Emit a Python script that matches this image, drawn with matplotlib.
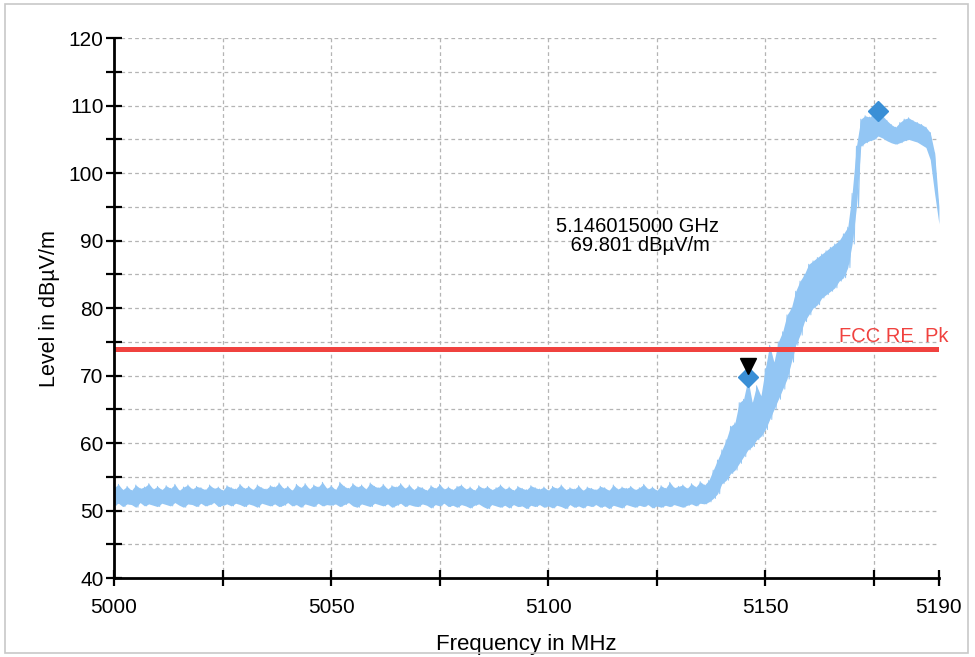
import numpy as np
import matplotlib
matplotlib.use('Agg')
import matplotlib.pyplot as plt
from matplotlib.patches import Rectangle

plt.rcParams['font.family'] = ['Liberation Sans', 'DejaVu Sans']

# ─── Data ───────────────────────────────────────────────────────────────────
freq_start = 5000   # MHz, 1 MHz per entry below

level_hi = [
    53.4, 53.9, 53.1, 53.6, 53.0, 53.8, 53.3, 53.5, 54.0, 53.2,
    53.6, 53.1, 53.7, 53.3, 53.9, 53.0, 53.5, 53.8, 53.2, 53.6,
    53.4, 53.1, 53.8, 53.3, 53.5, 53.0, 53.7, 53.4, 53.2, 53.9,
    53.3, 53.6, 53.1, 53.8, 53.4, 53.2, 53.7, 53.5, 54.1, 53.3,
    53.6, 53.0, 53.9, 53.4, 54.0, 53.2, 53.8, 53.5, 54.2, 53.3,
    53.7, 53.1, 54.2, 53.6, 53.3, 54.0, 53.5, 53.8, 53.2, 54.1,
    53.6, 53.4, 53.9, 53.2, 53.7, 53.5, 54.0, 53.3, 53.8, 53.1,
    53.6, 53.4, 53.0, 53.7, 53.3, 53.9, 53.2, 53.5, 53.1, 53.6,
    53.8, 53.2, 53.5, 53.0, 53.7, 53.3, 53.6, 53.1, 53.4, 53.8,
    53.2, 53.5, 53.0, 53.6, 53.3, 53.1, 53.7, 53.4, 53.2, 53.5,
    53.0, 53.6, 53.3, 53.8, 53.1, 53.4, 53.2, 53.7, 53.0, 53.5,
    53.3, 53.1, 53.6, 53.4, 53.0, 53.8, 53.2, 53.5, 53.3, 53.6,
    53.1, 53.4, 53.9, 53.2, 53.5, 53.0, 53.7, 53.3, 54.2, 53.4,
    53.6, 53.8, 53.3, 54.0, 53.5, 54.3, 53.8, 54.5, 56.0, 57.5,
    59.0, 60.5, 62.5, 63.0, 66.0, 66.5, 69.5, 66.0, 68.5, 67.0,
    71.0, 74.5, 72.0, 75.0, 76.5, 79.0, 80.0, 82.5, 84.0, 85.0,
    86.5, 87.0, 87.5, 88.0, 88.5, 89.0, 89.5, 90.0, 91.0, 92.0,
    97.0, 104.0, 108.0, 108.5, 108.3, 108.8, 109.2, 108.5, 107.8, 107.2,
    106.8, 107.5, 108.0, 108.2, 107.8, 107.5, 107.2, 106.8, 106.0, 103.0,
    95.0,
]

level_lo = [
    50.8, 51.1, 50.6, 51.0, 50.9, 50.5, 51.2, 50.7, 51.0, 50.8,
    50.6, 51.1, 50.9, 50.7, 51.2, 50.8, 50.5, 51.0, 50.9, 50.6,
    51.1, 50.7, 50.9, 51.2, 50.6, 50.8, 51.0, 50.7, 51.1, 50.9,
    50.6, 51.0, 50.8, 50.5, 51.1, 50.9, 50.7, 51.0, 50.6, 50.8,
    51.2, 50.7, 50.9, 50.5, 51.0, 50.8, 50.6, 51.1, 50.7, 50.9,
    50.8, 51.0, 50.6, 50.9, 51.2, 50.7, 50.5, 51.0, 50.8, 50.6,
    51.1, 50.9, 50.7, 51.0, 50.5, 50.8, 51.1, 50.6, 50.9, 50.7,
    50.6, 51.0, 50.8, 50.4, 50.9, 50.7, 51.1, 50.6, 50.8, 50.5,
    50.9, 50.7, 50.4, 50.8, 51.0, 50.6, 50.3, 50.9, 50.7, 50.5,
    50.8, 50.4, 50.9, 50.6, 50.7, 50.3, 50.8, 50.6, 50.9, 50.5,
    50.7, 50.4, 50.8, 50.6, 50.3, 50.9, 50.5, 50.7, 50.4, 50.8,
    50.6, 50.9, 50.5, 50.7, 50.3, 50.8, 50.6, 50.4, 50.9, 50.7,
    50.5, 50.8, 50.6, 50.9, 50.4, 50.7, 50.5, 50.8, 50.6, 50.9,
    50.7, 50.5, 50.8, 51.0, 50.7, 51.1, 51.0, 51.3, 51.8, 52.5,
    54.0, 54.5, 55.5, 56.0, 57.0, 58.0, 59.0, 59.5, 60.5, 61.0,
    62.0, 63.5, 65.0, 66.5, 68.0, 69.5, 72.0, 74.5, 76.0, 78.0,
    79.0, 80.0, 80.5, 81.5, 82.0, 82.5, 83.0, 84.0, 84.5, 86.0,
    89.5, 95.0, 104.0, 104.5, 104.8, 105.0, 105.5, 105.2, 104.8, 104.5,
    104.3, 104.5, 104.8, 105.0, 104.8, 104.6, 104.2, 103.8, 102.0, 97.0,
    92.5,
]

limit_level = 74.0
limit_label = 'FCC RE  Pk'
peak_freq, peak_level = 5176.0, 109.2
marker_freq, marker_level = 5146.015, 69.801

x_ticks = [5000, 5025, 5050, 5075, 5100, 5125, 5150, 5175, 5190]
x_labels = ['5000', '', '5050', '', '5100', '', '5150', '', '5190']

TRACE = '#93c6f4'
MARK = '#3a8fd6'
LIMIT = '#f0423f'

# ─── Build zig-zag trace from the envelope ──────────────────────────────────
n = len(level_hi)
freqs = freq_start + np.arange(n)
zig_x = np.empty(2 * n)
zig_y = np.empty(2 * n)
zig_x[0::2] = freqs
zig_x[1::2] = freqs + 0.5
zig_y[0::2] = level_hi
zig_y[1::2] = level_lo
zig_x = zig_x[:-1]
zig_y = zig_y[:-1]

# ═══════════════════════════════════════════════════════════════════════════
fig = plt.figure(figsize=(9.75, 6.57), dpi=100)
ax = fig.add_axes([0.117, 0.120, 0.846, 0.822])

ax.fill_between(freqs, level_lo, level_hi, color=TRACE, lw=0, zorder=2)
ax.plot(zig_x, zig_y, color=TRACE, lw=0.7, zorder=2)

ax.axhline(limit_level, color=LIMIT, lw=3.6, zorder=3)
ax.text(5167.0, limit_level + 0.4, limit_label, color=LIMIT, fontsize=14.5,
        ha='left', va='bottom', clip_on=False, zorder=4)

ax.plot(peak_freq, peak_level, marker='D', color=MARK, ms=10, mec=MARK, zorder=5)
ax.plot(marker_freq, marker_level, marker='D', color=MARK, ms=10, mec=MARK, zorder=5)
ax.plot(marker_freq, marker_level + 1.6, marker='v', color='black', ms=12, zorder=6)

ax.text(5120.5, 90.7, '5.146015000 GHz\n 69.801 dBµV/m', fontsize=14.5,
        ha='center', va='center', linespacing=1.05, zorder=4)

ax.set_xlim(5000, 5190)
ax.set_ylim(40, 120)
ax.set_xticks(x_ticks)
ax.set_xticklabels(x_labels)
ax.set_yticks(np.arange(40, 121, 10))
ax.set_yticks(np.arange(45, 120, 10), minor=True)
ax.tick_params(axis='both', which='both', direction='inout', length=11,
               width=1.6, labelsize=15, color='black', pad=2)
ax.tick_params(axis='x', pad=9)

for y in np.arange(45, 121, 5):
    ax.axhline(y, color='#b4b4b4', lw=0.9, ls=(0, (3, 2.5)), zorder=1)
for x in x_ticks[1:-1]:
    ax.axvline(x, color='#b4b4b4', lw=0.9, ls=(0, (3, 2.5)), zorder=1)

for side in ['top', 'right']:
    ax.spines[side].set_visible(False)
for side in ['left', 'bottom']:
    ax.spines[side].set_linewidth(2.0)
    ax.spines[side].set_zorder(7)

ax.set_xlabel('Frequency in MHz', fontsize=16, labelpad=12)
ax.set_ylabel('Level in dBµV/m', fontsize=15.5, labelpad=6)

fig.patches.append(Rectangle((0.005, 0.006), 0.988, 0.988, transform=fig.transFigure,
                             fill=False, ec='#c8c8c8', lw=1.2))

fig.savefig('out.png', dpi=100, facecolor='white')
